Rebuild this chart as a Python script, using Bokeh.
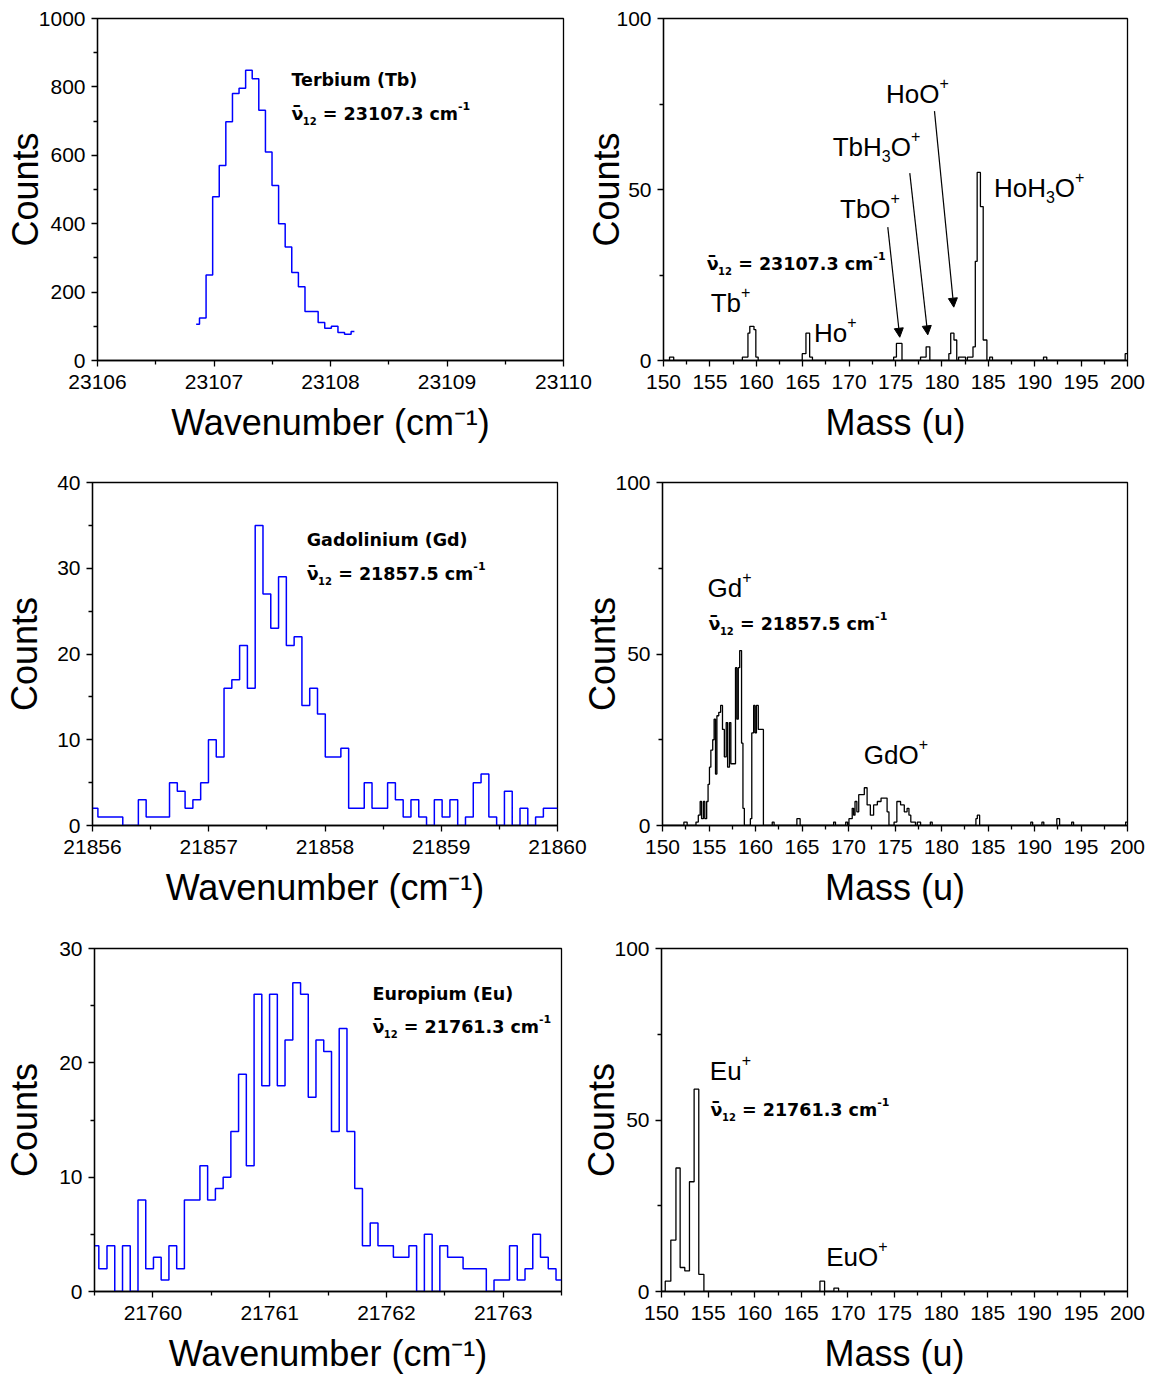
from bokeh.plotting import figure
from bokeh.models import Range1d, FixedTicker, Label, Arrow, NormalHead
from bokeh.layouts import column, row
from bokeh.embed import file_html
from bokeh.resources import INLINE

# ---------------- wavenumber scans (step histograms, bin centres) ----------------
tb_wavenumber = [23106.847, 23106.904, 23106.960, 23107.017, 23107.073, 23107.130,
                 23107.187, 23107.243, 23107.300, 23107.356, 23107.413, 23107.470,
                 23107.526, 23107.583, 23107.639, 23107.696, 23107.753, 23107.809,
                 23107.866, 23107.922, 23107.979, 23108.036, 23108.092, 23108.149,
                 23108.205]
tb_counts = [106, 124, 250, 479, 570, 698, 781, 796, 849, 824, 732, 610, 512,
             400, 332, 257, 216, 143, 143, 111, 94, 100, 82, 77, 85]

gd_wavenumber = [21856.000, 21856.093, 21856.160, 21856.227, 21856.294, 21856.361,
                 21856.428, 21856.495, 21856.562, 21856.629, 21856.696, 21856.763,
                 21856.830, 21856.897, 21856.964, 21857.031, 21857.098, 21857.165,
                 21857.232, 21857.299, 21857.366, 21857.433, 21857.500, 21857.567,
                 21857.634, 21857.701, 21857.768, 21857.835, 21857.902, 21857.969,
                 21858.036, 21858.103, 21858.170, 21858.237, 21858.304, 21858.371,
                 21858.438, 21858.505, 21858.572, 21858.639, 21858.706, 21858.773,
                 21858.840, 21858.907, 21858.974, 21859.041, 21859.108, 21859.175,
                 21859.242, 21859.309, 21859.376, 21859.443, 21859.510, 21859.577,
                 21859.644, 21859.711, 21859.778, 21859.845, 21859.912, 21860.000]
gd_counts = [2, 1, 1, 1, 0, 0, 3, 1, 1, 1, 5, 4, 2, 3, 5, 10, 8, 16, 17, 21,
             16, 35, 27, 23, 29, 21, 22, 14, 16, 13, 8, 8, 9, 2, 2, 5, 2, 2, 5, 3,
             1, 3, 1, 0, 3, 1, 3, 0, 1, 5, 6, 1, 0, 4, 0, 2, 0, 1, 2, 2]

eu_wavenumber = [21759.500, 21759.574, 21759.640, 21759.707, 21759.773, 21759.839,
                 21759.906, 21759.972, 21760.038, 21760.104, 21760.171, 21760.237,
                 21760.303, 21760.370, 21760.436, 21760.502, 21760.569, 21760.635,
                 21760.701, 21760.767, 21760.834, 21760.900, 21760.966, 21761.033,
                 21761.099, 21761.165, 21761.232, 21761.298, 21761.364, 21761.430,
                 21761.497, 21761.563, 21761.629, 21761.696, 21761.762, 21761.828,
                 21761.895, 21761.961, 21762.027, 21762.093, 21762.160, 21762.226,
                 21762.292, 21762.359, 21762.425, 21762.491, 21762.558, 21762.624,
                 21762.690, 21762.756, 21762.823, 21762.889, 21762.955, 21763.022,
                 21763.088, 21763.154, 21763.221, 21763.287, 21763.353, 21763.420,
                 21763.486, 21763.500]
eu_counts = [4, 2, 4, 0, 4, 0, 8, 2, 3, 1, 4, 2, 8, 8, 11, 8, 9, 10, 14, 19,
             11, 26, 18, 26, 18, 22, 27, 26, 17, 22, 21, 14, 23, 14, 9, 4, 6, 4,
             4, 3, 3, 4, 0, 5, 0, 4, 3, 3, 2, 2, 2, 0, 1, 1, 4, 1, 2, 5, 3, 2, 1, 1]

# ---------------- mass spectra (count holds from each mass to the next) ----------------
tb_mass = [150.0, 150.65, 151.1, 158.5, 159.1, 159.3, 159.75, 159.95, 160.2,
           164.95, 165.35, 165.75, 166.05,
           174.8, 175.1, 175.7,
           177.7, 178.3, 178.7,
           180.75, 180.95, 181.3, 181.6, 181.8, 182.55, 182.75, 183.35, 183.6,
           183.8, 184.15, 184.45, 184.85,
           185.15, 185.45, 190.95, 191.3, 199.75, 200.0]
tb_mass_counts = [0, 1, 0, 1, 8, 10, 9, 1, 0,
                  2, 8, 1, 0,
                  1, 5, 0,
                  1, 4, 0,
                  2, 8, 6, 0, 1, 0, 1, 4, 29,
                  55, 45, 6, 0,
                  1, 0, 1, 0, 2, 2]

gd_mass = [150.0, 152.3, 152.65, 153.6, 153.85, 154.05, 154.2, 154.4, 154.55,
           154.75, 154.9, 155.05, 155.2, 155.4, 155.55, 155.7, 155.85, 156.05,
           156.25, 156.45, 156.65, 156.85, 157.0, 157.2, 157.35, 157.85, 158.0,
           158.15, 158.3, 158.5, 158.65, 158.8,
           159.45, 159.6, 159.8, 159.95, 160.1, 160.3, 160.85,
           161.8, 162.0, 164.45, 164.8, 168.4, 168.6,
           169.7, 169.9, 170.05, 170.4, 170.55, 170.7, 170.9, 171.1, 171.7, 172.0,
           172.35, 172.7, 173.1, 173.5, 174.15, 174.35, 174.9, 175.2, 175.6, 176.0,
           176.3, 176.5, 176.7, 177.2, 177.4, 177.75,
           178.8, 179.0, 183.7, 183.85, 184.1, 189.6, 189.8, 190.8, 191.0, 192.4,
           192.7, 194.0, 194.2, 199.8, 200.0]
gd_mass_counts = [0, 1, 0, 1, 3, 7, 2, 7, 2,
                  7, 12, 17, 22, 25, 31, 15, 32, 33,
                  35, 28, 20, 30, 17, 30, 18, 46, 31,
                  46, 51, 24, 5, 0,
                  2, 27, 35, 27, 35, 28, 0,
                  1, 0, 2, 0, 1, 0,
                  1, 0, 2, 5, 3, 7, 4, 9, 11, 6,
                  3, 6, 7, 8, 4, 0, 1, 7, 6, 4,
                  5, 3, 1, 0, 1, 0,
                  1, 0, 2, 3, 0, 1, 0, 1, 0, 2,
                  0, 1, 0, 1, 1]

eu_mass = [150.0, 150.4, 151.0, 151.55, 152.0, 152.5, 153.0, 153.5, 154.0, 154.55,
           167.0, 167.5, 168.5, 169.0, 200.0]
eu_mass_counts = [0, 3, 15, 36, 7, 6, 32, 59, 5, 0, 3, 0, 1, 0, 0]

# ---------------- annotation texts ----------------
tb_name, gd_name, eu_name = "Terbium (Tb)", "Gadolinium (Gd)", "Europium (Eu)"
tb_nu, gd_nu, eu_nu = "23107.3", "21857.5", "21761.3"

# ---------------- ticks ----------------
mass_ticks = [150, 155, 160, 165, 170, 175, 180, 185, 190, 195, 200]
mass_minor = [152.5, 157.5, 162.5, 167.5, 172.5, 177.5, 182.5, 187.5, 192.5, 197.5]
count100_ticks, count100_minor = [0, 50, 100], [25, 75]
tb_xticks = [23106, 23107, 23108, 23109, 23110]
tb_xminor = [23106.5, 23107.5, 23108.5, 23109.5]
tb_yticks = [0, 200, 400, 600, 800, 1000]
tb_yminor = [100, 300, 500, 700, 900]
gd_xticks = [21856, 21857, 21858, 21859, 21860]
gd_xminor = [21856.5, 21857.5, 21858.5, 21859.5]
gd_yticks, gd_yminor = [0, 10, 20, 30, 40], [5, 15, 25, 35]
eu_xticks = [21760, 21761, 21762, 21763]
eu_xminor = [21759.5, 21760.5, 21761.5, 21762.5, 21763.5]
eu_yticks, eu_yminor = [0, 10, 20, 30], [5, 15, 25]

# advance widths (em) used to lay out sub/superscript pieces
ARIAL = {" ": 0.278, "+": 0.584, "T": 0.611, "b": 0.556, "H": 0.722, "O": 0.778,
         "o": 0.556, "G": 0.778, "d": 0.556, "E": 0.667, "u": 0.556}
ARIAL.update({d: 0.556 for d in "0123456789"})
DVB = {" ": 0.348, "=": 0.838, ".": 0.380, "c": 0.593, "m": 1.042, "-": 0.415,
       "\u03bd": 0.650, "\u00af": 0.0}
DVB.update({d: 0.696 for d in "0123456789"})

AXIS_FONT = "Liberation Sans"
NOTE_FONT = "DejaVu Sans"
TICK_SIZE = "21px"
TITLE_SIZE = "36px"


def panel(width, height, borders, xr, yr, xt, xm, yt, ym, xlabel, ystandoff,
          overlap=0):
    left, right, top, bottom = borders
    p = figure(width=width, height=height, x_range=Range1d(*xr), y_range=Range1d(*yr),
               output_backend="svg", toolbar_location=None, title=None,
               min_border_left=left, min_border_right=right,
               min_border_top=top, min_border_bottom=bottom)
    if overlap:
        # slide under the neighbour's right margin; keep this margin see-through
        p.margin = (0, 0, 0, -overlap)
        p.border_fill_alpha = 0
    else:
        p.border_fill_color = "white"
    p.grid.visible = False
    p.background_fill_color = "white"
    p.outline_line_color = "black"
    p.outline_line_width = 1.3
    p.outline_line_alpha = 1.0
    xa, ya = p.xaxis[0], p.yaxis[0]
    xa.ticker = FixedTicker(ticks=xt, minor_ticks=xm)
    ya.ticker = FixedTicker(ticks=yt, minor_ticks=ym)
    xa.axis_label = xlabel
    ya.axis_label = "Counts"
    for ax in (xa, ya):
        ax.axis_line_color = "black"
        ax.axis_line_width = 1.3
        ax.major_tick_line_color = "black"
        ax.major_tick_line_width = 1.3
        ax.minor_tick_line_color = "black"
        ax.minor_tick_line_width = 1.3
        ax.major_tick_in = 0
        ax.major_tick_out = 6
        ax.minor_tick_in = 0
        ax.minor_tick_out = 4
        ax.major_label_text_font = AXIS_FONT
        ax.major_label_text_font_size = TICK_SIZE
        ax.major_label_text_color = "black"
        ax.axis_label_text_font = AXIS_FONT
        ax.axis_label_text_font_size = TITLE_SIZE
        ax.axis_label_text_font_style = "normal"
        ax.axis_label_text_color = "black"
    xa.major_label_standoff = 8
    ya.major_label_standoff = 6
    xa.axis_label_standoff = 10
    ya.axis_label_standoff = ystandoff
    return p


def compose(p, x, y, pieces, font, style, table, lift):
    dx = 0.0
    for txt, fs, dy, advance in pieces:
        body = txt.lstrip(" ")
        dx += (len(txt) - len(body)) * table[" "] * fs
        p.add_layout(Label(x=x, y=y, x_offset=dx, y_offset=dy + lift, text=body,
                           text_font=font, text_font_size=f"{fs}px",
                           text_font_style=style, text_color="black",
                           text_baseline="alphabetic", text_align="left"))
        if advance:
            dx += sum(table.get(ch, 0.6) for ch in body) * fs


def nu_label(p, x, y, nu):
    compose(p, x, y, [("\u00af", 21, 0, False), ("\u03bd", 17.5, 0, True),
                      ("12", 10, -7, True), (f" = {nu} cm", 17.5, 0, True),
                      ("-1", 11, 8, True)], NOTE_FONT, "bold", DVB, 5)


def name_label(p, x, y, text):
    p.add_layout(Label(x=x, y=y, y_offset=5, text=text, text_font=NOTE_FONT,
                       text_font_size="17.5px", text_font_style="bold",
                       text_color="black", text_baseline="alphabetic",
                       text_align="left"))


def ion_label(p, x, y, parts):
    pieces = []
    for txt, role in parts:
        if role == "sub":
            pieces.append((txt, 16, -9, True))
        elif role == "sup":
            pieces.append((txt, 16, 11, True))
        else:
            pieces.append((txt, 26, 0, True))
    compose(p, x, y, pieces, AXIS_FONT, "normal", ARIAL, 10)


def arrow(p, x0, y0, x1, y1):
    p.add_layout(Arrow(end=NormalHead(size=9, fill_color="black", line_color="black",
                                      line_width=1),
                       x_start=x0, y_start=y0, x_end=x1, y_end=y1,
                       line_color="black", line_width=1.2))


WN = "Wavenumber (cm\u207b\u00b9)"
MASS = "Mass (u)"

# ---- row 1: terbium ----
p1 = panel(592, 462, (97, 29, 18, 102), (23106, 23110), (0, 1000),
           tb_xticks, tb_xminor, tb_yticks, tb_yminor, WN, -10)
p1.step(tb_wavenumber, tb_counts, mode="center", line_color="#0000ff", line_width=1.5)
name_label(p1, 23107.665, 805, tb_name)
nu_label(p1, 23107.665, 707, tb_nu)

p2 = panel(571, 462, (80, 27, 18, 102), (150, 200), (0, 100),
           mass_ticks, mass_minor, count100_ticks, count100_minor, MASS, -14,
           overlap=9)
p2.step(tb_mass, tb_mass_counts, mode="after", line_color="black", line_width=1.3)
ion_label(p2, 173.98, 75.1, [("HoO", "n"), ("+", "sup")])
ion_label(p2, 168.23, 59.5, [("TbH", "n"), ("3", "sub"), ("O", "n"), ("+", "sup")])
ion_label(p2, 169.02, 41.5, [("TbO", "n"), ("+", "sup")])
ion_label(p2, 185.61, 47.4, [("HoH", "n"), ("3", "sub"), ("O", "n"), ("+", "sup")])
ion_label(p2, 155.09, 13.8, [("Tb", "n"), ("+", "sup")])
ion_label(p2, 166.22, 5.2, [("Ho", "n"), ("+", "sup")])
nu_label(p2, 154.66, 26.9, tb_nu)
arrow(p2, 174.17, 39.0, 175.46, 6.8)
arrow(p2, 176.54, 54.8, 178.48, 7.5)
arrow(p2, 179.20, 72.9, 181.28, 15.6)

# ---- row 2: gadolinium ----
p3 = panel(590, 466, (92, 33, 20, 103), (21856, 21860), (0, 40),
           gd_xticks, gd_xminor, gd_yticks, gd_yminor, WN, 9)
p3.step(gd_wavenumber, gd_counts, mode="center", line_color="#0000ff", line_width=1.5)
name_label(p3, 21857.843, 32.7, gd_name)
nu_label(p3, 21857.843, 28.77, gd_nu)

p4 = panel(575, 466, (83, 27, 20, 103), (150, 200), (0, 100),
           mass_ticks, mass_minor, count100_ticks, count100_minor, MASS, -11,
           overlap=11)
p4.step(gd_mass, gd_mass_counts, mode="after", line_color="black", line_width=1.3)
ion_label(p4, 154.84, 66.2, [("Gd", "n"), ("+", "sup")])
nu_label(p4, 154.95, 57.4, gd_nu)
ion_label(p4, 171.65, 17.5, [("GdO", "n"), ("+", "sup")])

# ---- row 3: europium ----
p5 = panel(590, 450, (94, 29, 20, 87), (21759.5, 21763.5), (0, 30),
           eu_xticks, eu_xminor, eu_yticks, eu_yminor, WN, 11)
p5.step(eu_wavenumber, eu_counts, mode="center", line_color="#0000ff", line_width=1.5)
name_label(p5, 21761.881, 25.54, eu_name)
nu_label(p5, 21761.881, 22.72, eu_nu)

p6 = panel(576, 450, (82, 27, 20, 87), (150, 200), (0, 100),
           mass_ticks, mass_minor, count100_ticks, count100_minor, MASS, -11,
           overlap=12)
p6.step(eu_mass, eu_mass_counts, mode="after", line_color="black", line_width=1.3)
ion_label(p6, 155.19, 61.4, [("Eu", "n"), ("+", "sup")])
nu_label(p6, 155.27, 51.4, eu_nu)
ion_label(p6, 167.68, 7.2, [("EuO", "n"), ("+", "sup")])

layout = column(row(p1, p2), row(p3, p4), row(p5, p6))
open("out.html", "w").write(file_html(layout, INLINE))
